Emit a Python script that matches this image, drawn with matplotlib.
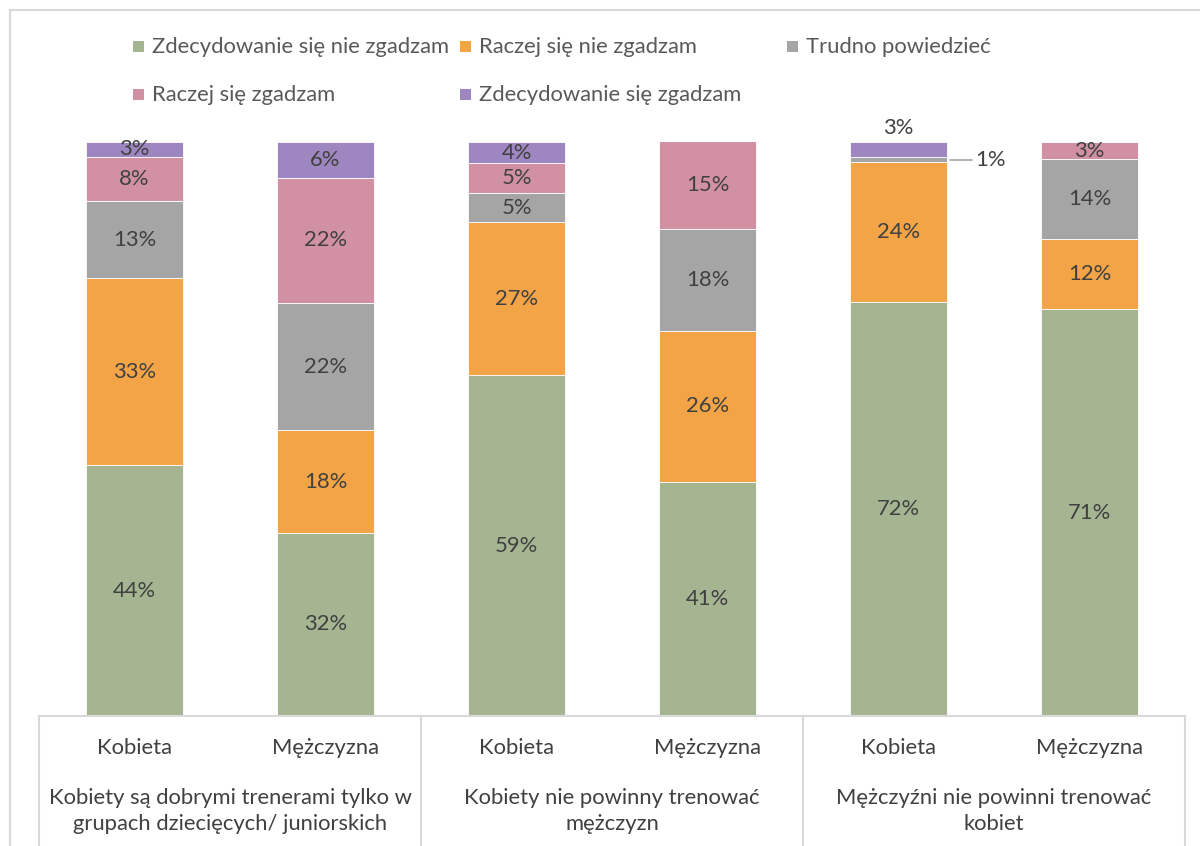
import matplotlib
matplotlib.use("Agg")
import matplotlib.pyplot as plt
from matplotlib.patches import Rectangle
from matplotlib.lines import Line2D
import matplotlib.transforms as mtransforms

plt.rcParams["font.family"] = ["Lato", "DejaVu Sans"]

# data (percent shares)
bars = ["Kobieta", "Mężczyzna", "Kobieta", "Mężczyzna", "Kobieta", "Mężczyzna"]
groups = ["Kobiety są dobrymi trenerami tylko w\ngrupach dziecięcych/ juniorskich",
          "Kobiety nie powinny trenować\nmężczyzn",
          "Mężczyźni nie powinni trenować\nkobiet"]
series_names = ["Zdecydowanie się nie zgadzam", "Raczej się nie zgadzam", "Trudno powiedzieć",
                "Raczej się zgadzam", "Zdecydowanie się zgadzam"]
strongly_disagree = [43.7, 31.9, 59.4, 40.8, 72.1, 70.9]
rather_disagree = [32.6, 17.9, 26.6, 26.3, 24.4, 12.2]
hard_to_say = [13.4, 22.1, 5.1, 17.8, 0.9, 13.9]
rather_agree = [7.7, 21.9, 5.2, 15.2, 0.0, 3.0]
strongly_agree = [2.6, 6.2, 3.7, 0.0, 2.6, 0.0]
series = [strongly_disagree, rather_disagree, hard_to_say, rather_agree, strongly_agree]
colors = ["#A5B592", "#F3A447", "#A5A5A5", "#D291A3", "#9E86C0"]

TXT = "#404040"
GRID = "#D9D9D9"
FS = 15.8

fig = plt.figure(figsize=(12, 8.46), dpi=100)
ax = fig.add_axes([39 / 1200, 1 - 716 / 846, (1185 - 39) / 1200, (716 - 142) / 846])

x = list(range(len(bars)))
bottom = [0.0] * len(bars)
for s, vals in enumerate(series):
    ax.bar(x, vals, width=0.51, bottom=bottom, color=colors[s], edgecolor="white", linewidth=0.6)
    for i, v in enumerate(vals):
        if v <= 0:
            continue
        lab = f"{v:.0f}%"
        if s == 2 and i == 4:
            # tiny grey slice: label outside with a leader line
            ax.annotate(lab, xy=(i + 0.255, bottom[i] + v / 2), xytext=(20, 0),
                        textcoords="offset points", ha="left", va="center", fontsize=FS, color=TXT,
                        arrowprops=dict(arrowstyle="-", color="#A5A5A5", lw=1.2,
                                        connectionstyle="angle,angleA=0,angleB=20,rad=0",
                                        shrinkA=0, shrinkB=2))
        elif s == 4 and i == 4:
            ax.annotate(lab, xy=(i, bottom[i] + v), xytext=(0, 10), textcoords="offset points",
                        ha="center", va="center", fontsize=FS, color=TXT)
        else:
            ax.text(i, bottom[i] + v / 2, lab, ha="center", va="center", fontsize=FS, color=TXT)
    bottom = [b + v for b, v in zip(bottom, vals)]

ax.set_xlim(-0.5, len(bars) - 0.5)
ax.set_ylim(0, 100)
ax.set_xticks([])
ax.set_yticks([])
for sp in ["top", "right", "left"]:
    ax.spines[sp].set_visible(False)
ax.spines["bottom"].set_color(GRID)
ax.spines["bottom"].set_linewidth(1.5)

# multi-level category axis
trans = mtransforms.blended_transform_factory(ax.transData, ax.transAxes)
for i, name in enumerate(bars):
    ax.text(i, -0.056, name, transform=trans, ha="center", va="center", fontsize=FS, color=TXT)
for g, name in enumerate(groups):
    ax.text(2 * g + 0.5, -0.165, name, transform=trans, ha="center", va="center",
            fontsize=FS, color=TXT, linespacing=1.35)
for sep in [-0.5, 1.5, 3.5, 5.5]:
    ax.add_line(Line2D([sep, sep], [0, -0.25], transform=trans, color=GRID, lw=1.5, clip_on=False))

# legend drawn by hand (Excel-like equal columns)
leg_cols = [133, 460, 787]
leg_rows = [47, 95]
for k, name in enumerate(series_names):
    cx = leg_cols[k % 3]
    cy = leg_rows[k // 3]
    fig.patches.append(Rectangle((cx / 1200, 1 - (cy + 5.5) / 846), 11 / 1200, 11 / 846,
                                 transform=fig.transFigure, facecolor=colors[k], edgecolor="none"))
    fig.text((cx + 19) / 1200, 1 - cy / 846, name, ha="left", va="center", fontsize=FS, color="#595959")

# outer chart frame
fig.add_artist(Line2D([10 / 1200, 1.0], [1 - 10 / 846, 1 - 10 / 846], color=GRID, lw=1.5))
fig.add_artist(Line2D([10 / 1200, 10 / 1200], [0, 1 - 10 / 846], color=GRID, lw=1.5))

fig.savefig("out.png", dpi=100)
